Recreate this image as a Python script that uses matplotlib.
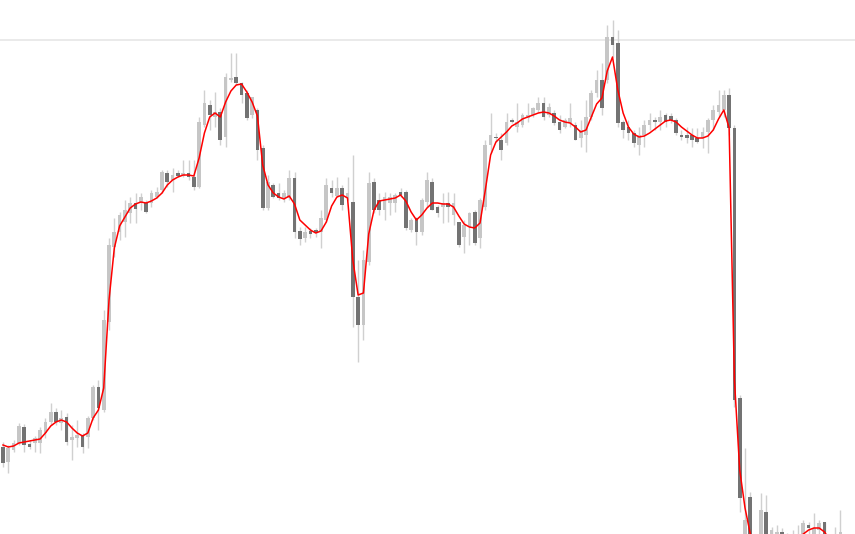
import numpy as np
import matplotlib
matplotlib.use("Agg")
import matplotlib.pyplot as plt

# OHLC prices (arbitrary price units)
opens = [153, 138, 150, 157, 173, 156, 157, 157, 167, 178, 188, 177, 183, 160, 162, 165, 163, 182, 213, 190,
         278, 353, 368, 378, 387, 397, 397, 397, 397, 403, 410, 427, 420, 427, 424, 427, 423, 413, 475, 495,
         483, 488, 463, 520, 523, 517, 507, 485, 490, 452, 392, 415, 407, 402, 402, 422, 369, 362, 369, 370,
         368, 380, 412, 404, 412, 402, 398, 303, 275, 338, 418, 400, 390, 397, 397, 408, 408, 370, 382, 368,
         398, 418, 393, 393, 397, 385, 378, 363, 373, 388, 362, 393, 455, 463, 460, 457, 480, 473, 475, 482,
         485, 490, 497, 485, 487, 478, 473, 477, 475, 462, 465, 483, 507, 520, 520, 563, 557, 478, 473, 467,
         455, 465, 475, 480, 478, 485, 484, 480, 465, 465, 465, 462, 462, 468, 480, 488, 490, 505, 472, 202,
         60, 103, 50, 60, 88, 62, 60, 68, 60, 55, 55, 60, 75, 64, 70, 78, 60, 55, 55, 52]
highs = [158, 155, 160, 177, 176, 160, 164, 173, 182, 197, 192, 190, 187, 175, 180, 167, 184, 215, 220, 290,
         362, 382, 388, 400, 403, 407, 407, 400, 410, 413, 430, 430, 432, 430, 440, 440, 440, 483, 510, 500,
         508, 492, 527, 547, 547, 518, 510, 503, 492, 455, 425, 417, 417, 410, 430, 428, 373, 373, 372, 372,
         390, 422, 420, 423, 415, 423, 445, 340, 350, 428, 422, 407, 408, 407, 407, 412, 410, 382, 383, 402,
         428, 422, 395, 407, 408, 407, 378, 380, 388, 390, 402, 460, 487, 467, 467, 487, 482, 497, 487, 497,
         493, 503, 503, 497, 490, 485, 482, 497, 478, 480, 500, 510, 530, 537, 575, 580, 570, 480, 480, 470,
         473, 480, 487, 483, 490, 487, 487, 482, 470, 473, 472, 472, 473, 482, 495, 510, 510, 512, 475, 205,
         152, 108, 62, 107, 105, 73, 75, 72, 67, 70, 75, 80, 78, 87, 80, 78, 62, 73, 90, 65]
lows = [133, 127, 148, 155, 148, 151, 148, 147, 162, 175, 175, 170, 155, 140, 153, 147, 152, 180, 170, 188,
        270, 343, 360, 363, 377, 377, 390, 387, 393, 402, 407, 413, 408, 423, 423, 420, 410, 412, 473, 470,
        473, 455, 453, 518, 515, 497, 480, 482, 440, 390, 390, 402, 400, 398, 400, 362, 355, 358, 362, 363,
        352, 378, 403, 403, 390, 400, 273, 238, 260, 335, 387, 385, 380, 385, 388, 403, 370, 368, 355, 365,
        393, 390, 383, 377, 378, 375, 353, 347, 355, 355, 352, 390, 447, 458, 440, 455, 477, 468, 473, 478,
        483, 488, 480, 483, 475, 467, 472, 473, 460, 453, 448, 480, 503, 485, 517, 543, 473, 462, 460, 453,
        445, 453, 470, 470, 470, 473, 477, 465, 460, 457, 453, 457, 452, 447, 470, 483, 483, 465, 193, 88,
        55, 50, 40, 55, 55, 55, 55, 55, 55, 52, 52, 55, 60, 55, 60, 55, 48, 52, 52, 50]
closes = [137, 152, 157, 174, 155, 153, 162, 170, 178, 188, 178, 182, 158, 163, 165, 153, 182, 213, 192, 280,
          355, 368, 385, 390, 397, 391, 403, 388, 407, 408, 428, 418, 425, 424, 427, 423, 413, 478, 497, 485,
          488, 460, 523, 522, 517, 505, 482, 503, 450, 392, 418, 403, 402, 407, 422, 368, 361, 368, 366, 367,
          382, 415, 407, 412, 395, 407, 303, 275, 340, 417, 390, 390, 403, 403, 405, 405, 372, 380, 368, 400,
          420, 390, 387, 397, 393, 397, 355, 375, 387, 357, 400, 455, 465, 462, 450, 478, 478, 478, 485, 485,
          492, 497, 483, 493, 477, 470, 480, 482, 460, 470, 483, 507, 520, 492, 563, 555, 477, 470, 467, 457,
          465, 475, 480, 478, 483, 478, 480, 467, 463, 462, 460, 458, 468, 480, 490, 495, 505, 472, 200, 102,
          80, 55, 58, 90, 60, 70, 68, 62, 63, 62, 65, 77, 72, 72, 77, 60, 52, 65, 68, 62]

# smoothed moving average (red line)
ma = [155, 153, 154, 157, 158, 159, 160, 161, 167, 174, 178, 180, 178, 172, 167, 164, 167, 182, 190, 212,
      300, 352, 374, 383, 392, 396, 398, 397, 399, 402, 407, 415, 420, 423, 425, 425, 424, 442, 467, 483,
      487, 483, 498, 509, 515, 516, 508, 498, 484, 435, 415, 407, 403, 401, 404, 396, 380, 375, 370, 367,
      369, 378, 394, 403, 405, 402, 340, 305, 307, 366, 390, 399, 400, 401, 402, 405, 399, 388, 380, 385,
      392, 397, 397, 396, 396, 393, 384, 376, 373, 372, 377, 410, 445, 458, 463, 468, 474, 477, 481, 483,
      485, 487, 488, 487, 484, 480, 478, 477, 473, 468, 470, 483, 496, 502, 529, 543, 510, 487, 473, 466,
      463, 464, 467, 471, 475, 479, 480, 478, 473, 469, 465, 462, 462, 464, 470, 481, 490, 472, 220, 130,
      92, 66, 52, 44, 40, 38, 38, 42, 48, 55, 61, 66, 70, 72, 72, 68, 60, 54, 50, 48]

ref_level = 560

o = np.array(opens, dtype=float)
h = np.array(highs, dtype=float)
l = np.array(lows, dtype=float)
c = np.array(closes, dtype=float)
x = np.arange(len(o))

bull = c >= o
bottom = np.minimum(o, c)
height = np.maximum(np.abs(c - o), 1.5)

fig = plt.figure(figsize=(8.55, 5.34), dpi=100)
ax = fig.add_axes([0, 0, 1, 1])
ax.set_facecolor("white")

ax.axhline(ref_level, color="#e6e6e6", lw=1.2, zorder=0)

ax.vlines(x, l, h, color="#d0d0d0", lw=1.0, zorder=1)
ax.bar(x[bull], height[bull], bottom=bottom[bull], width=0.7, color="#c6c6c6", zorder=2)
ax.bar(x[~bull], height[~bull], bottom=bottom[~bull], width=0.7, color="#737373", zorder=2)

ax.plot(x, ma, color="#ff0000", lw=1.1, zorder=3, solid_joinstyle="round")

ax.set_xlim(-0.57, 160.75)
ax.set_ylim(66, 600)
ax.axis("off")

fig.savefig("out.png", dpi=100, facecolor="white")
